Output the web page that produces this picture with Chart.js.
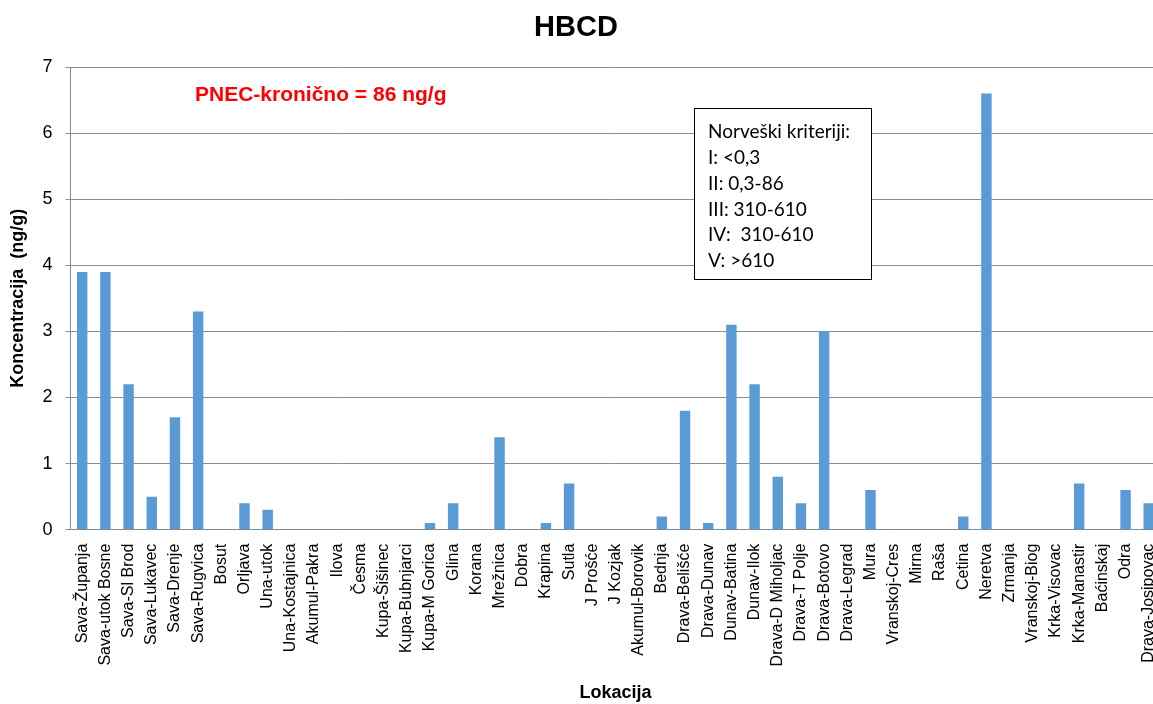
<title>HBCD</title>
<meta charset="UTF-8">
<style>
body { margin:0; overflow:hidden; background:#fff; }
#wrap { width:1177px; height:704px; }
</style>
<body>
<div id="wrap"><canvas id="chart1"></canvas></div>
<script src="https://cdn.jsdelivr.net/npm/chart.js@4/dist/chart.umd.min.js"></script>
<script>
var lokacije = ["Sava-Županja", "Sava-utok Bosne", "Sava-Sl Brod", "Sava-Lukavec", "Sava-Drenje", "Sava-Rugvica",
	"Bosut", "Orljava", "Una-utok", "Una-Kostajnica", "Akumul-Pakra", "Ilova", "Česma", "Kupa-Šišinec",
	"Kupa-Bubnjarci", "Kupa-M Gorica", "Glina", "Korana", "Mrežnica", "Dobra", "Krapina", "Sutla",
	"J Prošće", "J Kozjak", "Akumul-Borovik", "Bednja", "Drava-Belišće", "Drava-Dunav", "Dunav-Batina",
	"Dunav-Ilok", "Drava-D Miholjac", "Drava-T Polje", "Drava-Botovo", "Drava-Legrad", "Mura",
	"Vranskoj-Cres", "Mirna", "Raša", "Cetina", "Neretva", "Zrmanja", "Vranskoj-Biog", "Krka-Visovac",
	"Krka-Manastir", "Baćinskaj", "Odra", "Drava-Josipovac"];
var hbcd = [3.9, 3.9, 2.2, 0.5, 1.7, 3.3,
	0, 0.4, 0.3, 0, 0, 0, 0, 0,
	0, 0.1, 0.4, 0, 1.4, 0, 0.1, 0.7,
	0, 0, 0, 0.2, 1.8, 0.1, 3.1,
	2.2, 0.8, 0.4, 3.0, 0, 0.6,
	0, 0, 0, 0.2, 6.6, 0, 0, 0,
	0.7, 0, 0.6, 0.4];
var kriteriji = ["Norveški kriteriji:", "I: <0,3", "II: 0,3-86", "III: 310-610", "IV:  310-610", "V: >610"];

// naslov, PNEC tekst i okvir s kriterijima
var crtez = {
  id: "crtez",
  afterDraw: function(chart) {
    var c = chart.ctx;
    c.save();
    c.fillStyle = "#000";
    c.font = "bold 29px 'Liberation Sans', Arial";
    c.textAlign = "center";
    c.textBaseline = "middle";
    c.fillText("HBCD", 576, 28);

    c.fillStyle = "#ff0000";
    c.font = "bold 21px 'Liberation Sans', Arial";
    c.textAlign = "left";
    c.fillText("PNEC-kronično = 86 ng/g", 195, 95);

    c.fillStyle = "#fff";
    c.fillRect(694, 108, 177, 171);
    c.strokeStyle = "#000";
    c.lineWidth = 1;
    c.strokeRect(694.5, 108.5, 177, 171);
    c.fillStyle = "#000";
    c.font = "19px Lato, 'Open Sans'";
    for (var i = 0; i < kriteriji.length; i++) {
      c.fillText(kriteriji[i], 708, 132 + i * 25.8);
    }
    c.restore();
  }
};

new Chart("chart1", {
  type: "bar",
  data: {
    labels: lokacije,
    datasets: [{
      data: hbcd,
      backgroundColor: "#5b9bd5",
      barPercentage: 0.45,
      categoryPercentage: 1
    }]
  },
  options: {
    responsive: true,
    maintainAspectRatio: false,
    animation: false,
    layout: { padding: { top: 67, right: 6, left: 3, bottom: 0 } },
    plugins: { legend: { display: false }, tooltip: { enabled: false } },
    scales: {
      x: {
        grid: { display: false, drawTicks: true, tickLength: 5 },
        border: { color: "#888" },
        ticks: {
          autoSkip: false, minRotation: 90, maxRotation: 90, padding: 9,
          color: "#000", font: { family: "'Liberation Sans', Arial", size: 16 }
        },
        title: { display: true, text: "Lokacija", color: "#000",
          font: { family: "'Liberation Sans', Arial", size: 18, weight: "bold" }, padding: { top: 7, bottom: 0 } }
      },
      y: {
        min: 0, max: 7,
        ticks: { stepSize: 1, color: "#000", padding: 13, font: { family: "'Liberation Sans', Arial", size: 18 } },
        grid: { color: "#8c8c8c", tickLength: 5 },
        border: { color: "#888" },
        title: { display: true, text: "Koncentracija  (ng/g)", color: "#000",
          font: { family: "'Liberation Sans', Arial", size: 18, weight: "bold" }, padding: { bottom: 1 } }
      }
    }
  },
  plugins: [crtez]
});
</script>
